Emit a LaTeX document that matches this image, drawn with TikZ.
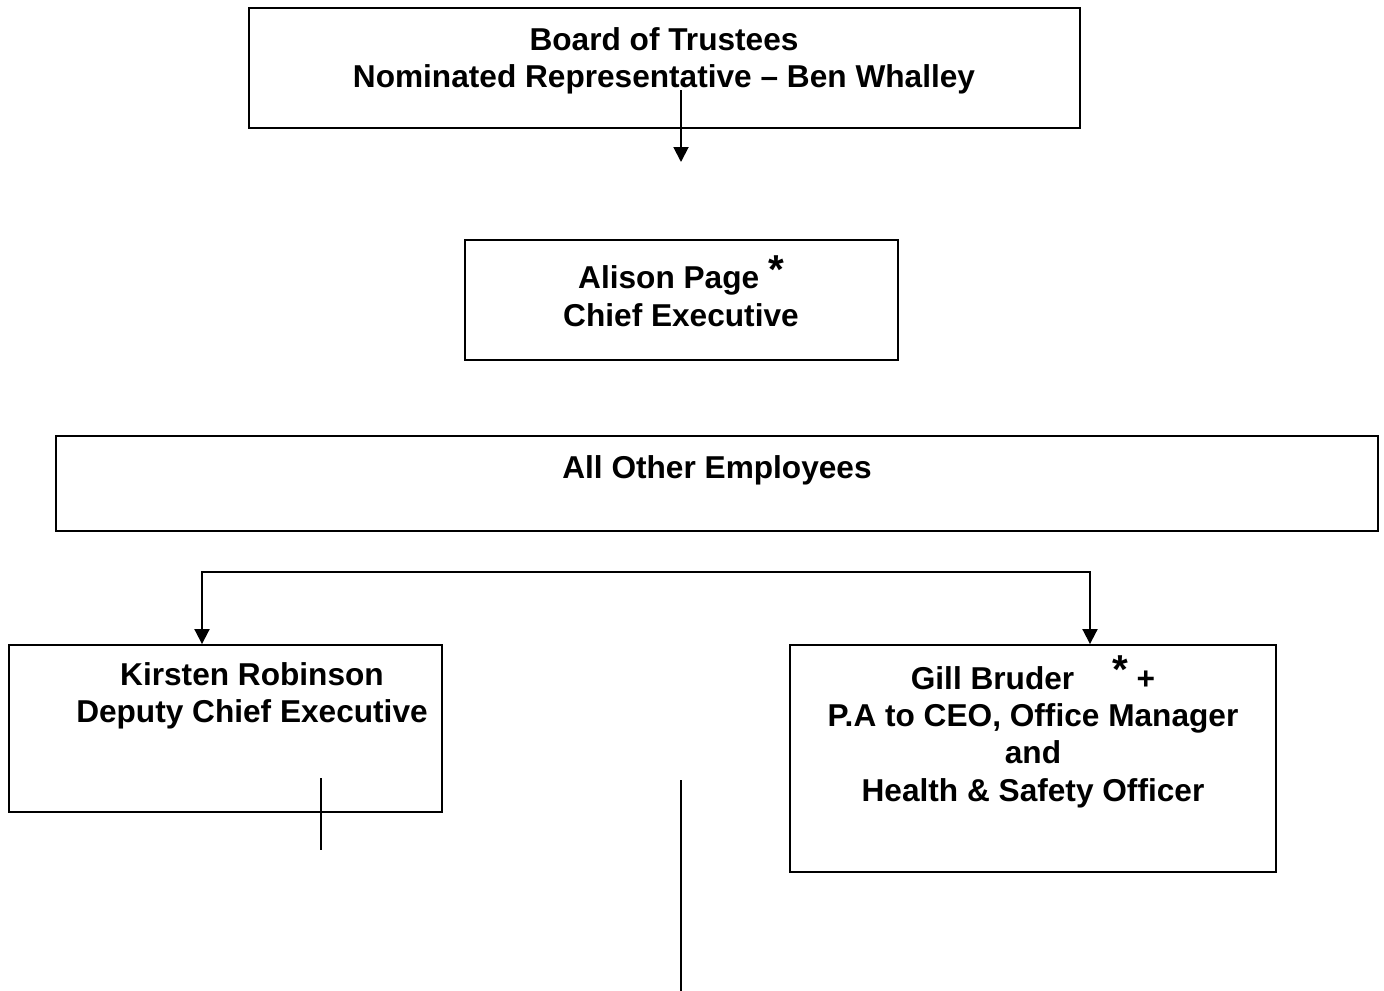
\documentclass[tikz,border=0pt]{standalone}
\usepackage{fontspec}
\setmainfont{Liberation Sans}
\usetikzlibrary{arrows.meta}

\newcommand{\bigstar}{\smash{\raisebox{3pt}{\fontsize{23}{23}\selectfont *}}}

\begin{document}
\begin{tikzpicture}[x=0.02cm, y=-0.02cm, line width=1.1pt,
		box/.style={draw=black, inner sep=0pt},
		txt/.style={font=\bfseries\fontsize{18}{21.3}\selectfont, align=center, inner sep=0pt},
		thin line/.style={line width=0.75pt},
		tip/.style={-{Triangle[width=0.3cm,length=0.3cm]}},
		tips/.style={{Triangle[width=0.3cm,length=0.3cm]}-{Triangle[width=0.3cm,length=0.3cm]}}]
			\useasboundingbox (0,0) rectangle (1384,991);
			
			\node[box, minimum width=16.62cm, minimum height=2.4cm] (board) at (664.5,68) {};
			\node[box, minimum width=8.66cm, minimum height=2.4cm] (ceo) at (681.5,300) {};
			\node[box, minimum width=26.44cm, minimum height=1.9cm] (staff) at (717,483.5) {};
			\node[box, minimum width=8.66cm, minimum height=3.34cm] (deputy) at (225.5,728.5) {};
			\node[box, minimum width=9.72cm, minimum height=4.54cm] (pa) at (1033,758.5) {};
			
			\node[txt] (boardtxt) at (664,61) {Board of Trustees\\Nominated Representative -- Ben Whalley};
			\node[txt] (ceotxt) at (681,296) {Alison Page \bigstar\\Chief Executive};
			\node[txt] (stafftxt) at (717,470) {All Other Employees};
			\node[txt] (deputytxt) at (252,696) {Kirsten Robinson\\Deputy Chief Executive};
			\node[txt] (patxt) at (1033,737) {Gill Bruder\hspace{1.2em}\bigstar\ +\\P.A to CEO, Office Manager\\and\\Health \& Safety Officer};
			
			\coordinate (a1) at (681,90);
			\coordinate (a2) at (681,162);
			\coordinate (l) at (202,572);
			\coordinate (r) at (1090,572);
			\coordinate (d1) at (321,778);
			\coordinate (d2) at (321,850);
			\coordinate (m1) at (681,780);
			\coordinate (m2) at (681,991);
			
			\draw[tip] (a1) -- (a2);
			\draw[tips] (l |- deputy.north) -- (l) -- (r) -- (r |- pa.north);
			\draw[thin line] (d1) -- (d2);
			\draw[thin line] (m1) -- (m2);
		\end{tikzpicture}
\end{document}
